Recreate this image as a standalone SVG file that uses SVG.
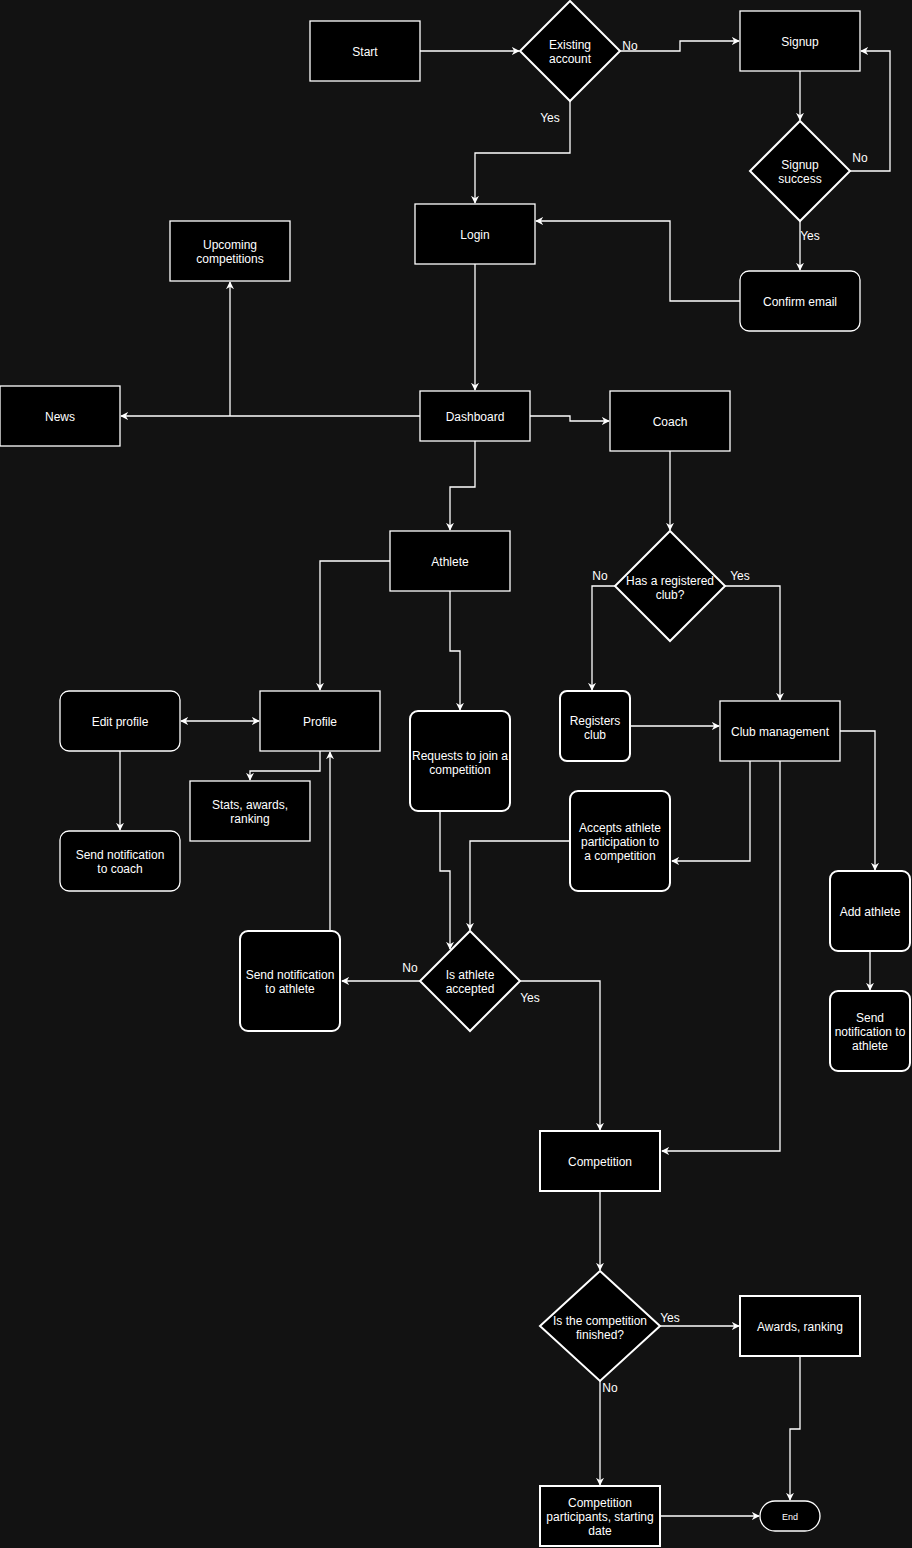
<svg xmlns="http://www.w3.org/2000/svg" width="912" height="1548" viewBox="0 0 912 1548">
<style>
.n{fill:#000;stroke:#fff;stroke-width:1.3}
.t{fill:#000;stroke:#fff;stroke-width:2}
text{font-family:"Liberation Sans",Arial,sans-serif;font-size:12px;fill:#fff;text-anchor:middle;transform:translate(0px,1px)}
.c{fill:none;stroke:#fff;stroke-width:1.3}
</style>
<defs>
<marker id="a" viewBox="0 0 10 10" refX="9" refY="5" markerWidth="8" markerHeight="8" markerUnits="userSpaceOnUse" orient="auto-start-reverse">
<path d="M0,0 L10,5 L0,10 L3,5 z" fill="#fff"/>
</marker>
</defs>
<rect width="912" height="1548" fill="#121212"/>
<g id="connectors">
<path class="c" d="M420,51 H519" marker-end="url(#a)"/>
<path class="c" d="M620,51 H680 V41 H739" marker-end="url(#a)"/>
<path class="c" d="M570,101 V153 H475 V203" marker-end="url(#a)"/>
<path class="c" d="M800,71 V120" marker-end="url(#a)"/>
<path class="c" d="M850,171 H890 V51 H861" marker-end="url(#a)"/>
<path class="c" d="M800,221 V270" marker-end="url(#a)"/>
<path class="c" d="M740,301 H670 V221 H536" marker-end="url(#a)"/>
<path class="c" d="M475,264 V390" marker-end="url(#a)"/>
<path class="c" d="M420,416 H121" marker-end="url(#a)"/>
<path class="c" d="M230,416 V282" marker-end="url(#a)"/>
<path class="c" d="M530,416 H570 V421 H609" marker-end="url(#a)"/>
<path class="c" d="M475,441 V487 H450 V530" marker-end="url(#a)"/>
<path class="c" d="M670,451 V530" marker-end="url(#a)"/>
<path class="c" d="M615,586 H592 V690" marker-end="url(#a)"/>
<path class="c" d="M725,586 H780 V700" marker-end="url(#a)"/>
<path class="c" d="M630,726 H719" marker-end="url(#a)"/>
<path class="c" d="M840,731 H875 V870" marker-end="url(#a)"/>
<path class="c" d="M870,951 V990" marker-end="url(#a)"/>
<path class="c" d="M750,761 V861 H672" marker-end="url(#a)"/>
<path class="c" d="M780,761 V1151 H662" marker-end="url(#a)"/>
<path class="c" d="M570,841 H470 V930" marker-end="url(#a)"/>
<path class="c" d="M450,591 V651 H460 V710" marker-end="url(#a)"/>
<path class="c" d="M440,811 V871 H450 V949" marker-end="url(#a)"/>
<path class="c" d="M420,981 H342" marker-end="url(#a)"/>
<path class="c" d="M520,981 H600 V1130" marker-end="url(#a)"/>
<path class="c" d="M330,931 V752" marker-end="url(#a)"/>
<path class="c" d="M390,561 H320 V690" marker-end="url(#a)"/>
<path class="c" d="M320,751 V771 H250 V780" marker-end="url(#a)"/>
<path class="c" d="M181,721 H259" marker-start="url(#a)" marker-end="url(#a)"/>
<path class="c" d="M120,751 V830" marker-end="url(#a)"/>
<path class="c" d="M600,1191 V1270" marker-end="url(#a)"/>
<path class="c" d="M660,1326 H739" marker-end="url(#a)"/>
<path class="c" d="M600,1381 V1485" marker-end="url(#a)"/>
<path class="c" d="M800,1356 V1429 H790 V1500" marker-end="url(#a)"/>
<path class="c" d="M660,1516 H759" marker-end="url(#a)"/>
<text x="550" y="121">Yes</text>
<text x="630" y="49">No</text>
<text x="860" y="161">No</text>
<text x="810" y="239">Yes</text>
<text x="600" y="579">No</text>
<text x="740" y="579">Yes</text>
<text x="410" y="971">No</text>
<text x="530" y="1001">Yes</text>
<text x="670" y="1321">Yes</text>
<text x="610" y="1391">No</text>
</g>
<g id="start"><rect class="n" x="310" y="21" width="110" height="60"/><text x="365" y="55">Start</text></g>
<g id="existing"><path class="t" d="M570,1 L620,51 L570,101 L520,51 Z"/><text x="570" y="48">Existing</text><text x="570" y="62">account</text></g>
<g id="signup"><rect class="n" x="740" y="11" width="120" height="60"/><text x="800" y="45">Signup</text></g>
<g id="signupSuccess"><path class="t" d="M800,121 L850,171 L800,221 L750,171 Z"/><text x="800" y="168">Signup</text><text x="800" y="182">success</text></g>
<g id="confirm"><rect class="n" x="740" y="271" width="120" height="60" rx="9"/><text x="800" y="305">Confirm email</text></g>
<g id="login"><rect class="n" x="415" y="204" width="120" height="60"/><text x="475" y="238">Login</text></g>
<g id="upcoming"><rect class="n" x="170" y="221" width="120" height="60"/><text x="230" y="248">Upcoming</text><text x="230" y="262">competitions</text></g>
<g id="news"><rect class="n" x="0" y="386" width="120" height="60"/><text x="60" y="420">News</text></g>
<g id="dashboard"><rect class="n" x="420" y="391" width="110" height="50"/><text x="475" y="420">Dashboard</text></g>
<g id="coach"><rect class="n" x="610" y="391" width="120" height="60"/><text x="670" y="425">Coach</text></g>
<g id="athlete"><rect class="n" x="390" y="531" width="120" height="60"/><text x="450" y="565">Athlete</text></g>
<g id="hasClub"><path class="t" d="M670,531 L725,586 L670,641 L615,586 Z"/><text x="670" y="584">Has a registered</text><text x="670" y="598">club?</text></g>
<g id="registers"><rect class="t" x="560" y="691" width="70" height="70" rx="7"/><text x="595" y="724">Registers</text><text x="595" y="738">club</text></g>
<g id="clubMgmt"><rect class="n" x="720" y="701" width="120" height="60"/><text x="780" y="735">Club management</text></g>
<g id="addAthlete"><rect class="t" x="830" y="871" width="80" height="80" rx="8"/><text x="870" y="915">Add athlete</text></g>
<g id="notifyAthleteR"><rect class="t" x="830" y="991" width="80" height="80" rx="8"/><text x="870" y="1021">Send</text><text x="870" y="1035">notification to</text><text x="870" y="1049">athlete</text></g>
<g id="accepts"><rect class="t" x="570" y="791" width="100" height="100" rx="8"/><text x="620" y="831">Accepts athlete</text><text x="620" y="845">participation to</text><text x="620" y="859">a competition</text></g>
<g id="requests"><rect class="t" x="410" y="711" width="100" height="100" rx="8"/><text x="460" y="759">Requests to join a</text><text x="460" y="773">competition</text></g>
<g id="isAccepted"><path class="t" d="M470,931 L520,981 L470,1031 L420,981 Z"/><text x="470" y="978">Is athlete</text><text x="470" y="992">accepted</text></g>
<g id="notifyAthleteL"><rect class="t" x="240" y="931" width="100" height="100" rx="8"/><text x="290" y="978">Send notification</text><text x="290" y="992">to athlete</text></g>
<g id="profile"><rect class="n" x="260" y="691" width="120" height="60"/><text x="320" y="725">Profile</text></g>
<g id="stats"><rect class="n" x="190" y="781" width="120" height="60"/><text x="250" y="808">Stats, awards,</text><text x="250" y="822">ranking</text></g>
<g id="editProfile"><rect class="n" x="60" y="691" width="120" height="60" rx="9"/><text x="120" y="725">Edit profile</text></g>
<g id="notifyCoach"><rect class="n" x="60" y="831" width="120" height="60" rx="9"/><text x="120" y="858">Send notification</text><text x="120" y="872">to coach</text></g>
<g id="competition"><rect class="t" x="540" y="1131" width="120" height="60"/><text x="600" y="1165">Competition</text></g>
<g id="finished"><path class="t" d="M600,1271 L660,1326 L600,1381 L540,1326 Z"/><text x="600" y="1324">Is the competition</text><text x="600" y="1338">finished?</text></g>
<g id="awards"><rect class="t" x="740" y="1296" width="120" height="60"/><text x="800" y="1330">Awards, ranking</text></g>
<g id="participants"><rect class="t" x="540" y="1486" width="120" height="60"/><text x="600" y="1506">Competition</text><text x="600" y="1520">participants, starting</text><text x="600" y="1534">date</text></g>
<g id="end"><rect class="n" x="760" y="1501" width="60" height="30" rx="15"/><text x="790" y="1519" style="font-size:9px">End</text></g>
</svg>
